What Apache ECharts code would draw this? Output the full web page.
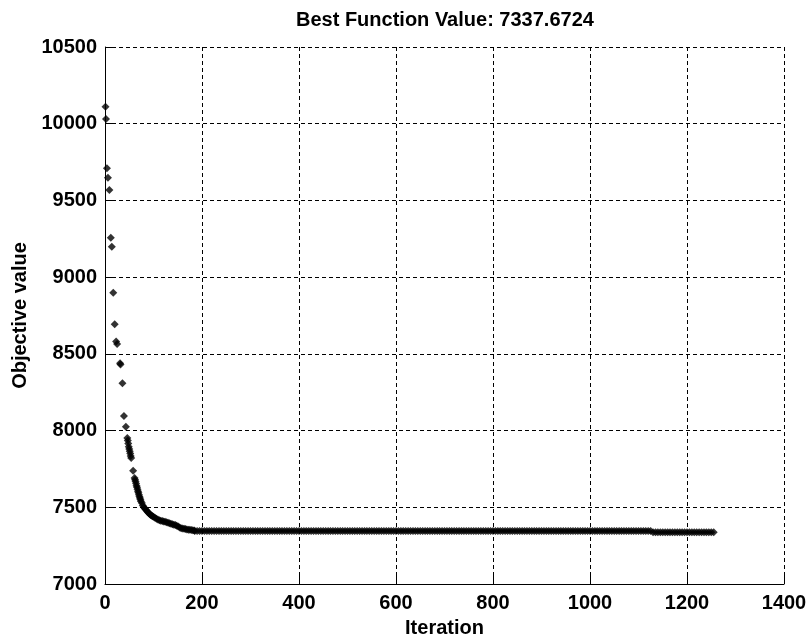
<!DOCTYPE html>
<html>
<head>
<meta charset="utf-8">
<script src="https://cdn.jsdelivr.net/npm/echarts@6/dist/echarts.min.js"></script>
<style>html,body{margin:0;padding:0;background:#fff}#c{width:807px;height:636px}</style>
</head>
<body>
<div id="c"></div>
<script>
const titleText = 'Best Function Value: 7337.6724';
const xName = 'Iteration';
const yName = 'Objective value';
const xTicks = { min: 0, max: 1400, interval: 200 };
const yTicks = { min: 7000, max: 10500, interval: 500 };

// descent phase [iteration, value]
const descent = [
[1,10111],[2,10031],[4,9709],[6,9648],[9,9568],[12,9257],[14,9198],[17,8899],[20,8693],
[23,8580],[25,8565],[31,8438],[32,8430],[36,8308],[39,8095],[43,8025],[46,7952],[47,7935],
[48,7915],[49,7895],[50,7880],[51,7865],[52,7850],[53,7835],[54,7822],[58,7738],[61,7691],
[62,7680],[63,7668],[64,7655],[65,7640],[66,7630],[67,7618],[68,7605],[69,7595],[70,7582],
[71,7570],[72,7560],[73,7550],[74,7540],[76,7528],[78,7512],[80,7500],[82,7492],[84,7485],
[86,7478],[88,7470],[90,7462],[92,7456],[94,7450],[96,7446],[98,7442],[100,7439],[103,7432],
[106,7426],[109,7420],[112,7415],[115,7412],[118,7410],[121,7408],[124,7406],[127,7403],
[130,7400],[133,7396],[136,7392],[139,7389],[142,7386],[145,7384],[148,7380],[151,7374],
[154,7368],[157,7364],[160,7362],[163,7360],[166,7358],[169,7356],[172,7354],[175,7353],
[178,7352],[181,7350],[184,7348]
];

// first plateau [iteration, value]
const plateauA = [
[185,7346],[190,7346],[195,7346],
[200,7346],[205,7346],[210,7346],[215,7346],[220,7346],[225,7346],[230,7346],[235,7346],[240,7346],[245,7346],
[250,7346],[255,7346],[260,7346],[265,7346],[270,7346],[275,7346],[280,7346],[285,7346],[290,7346],[295,7346],
[300,7346],[305,7346],[310,7346],[315,7346],[320,7346],[325,7346],[330,7346],[335,7346],[340,7346],[345,7346],
[350,7346],[355,7346],[360,7346],[365,7346],[370,7346],[375,7346],[380,7346],[385,7346],[390,7346],[395,7346],
[400,7346],[405,7346],[410,7346],[415,7346],[420,7346],[425,7346],[430,7346],[435,7346],[440,7346],[445,7346],
[450,7346],[455,7346],[460,7346],[465,7346],[470,7346],[475,7346],[480,7346],[485,7346],[490,7346],[495,7346],
[500,7346],[505,7346],[510,7346],[515,7346],[520,7346],[525,7346],[530,7346],[535,7346],[540,7346],[545,7346],
[550,7346],[555,7346],[560,7346],[565,7346],[570,7346],[575,7346],[580,7346],[585,7346],[590,7346],[595,7346],
[600,7346],[605,7346],[610,7346],[615,7346],[620,7346],[625,7346],[630,7346],[635,7346],[640,7346],[645,7346],
[650,7346],[655,7346],[660,7346],[665,7346],[670,7346],[675,7346],[680,7346],[685,7346],[690,7346],[695,7346],
[700,7346],[705,7346],[710,7346],[715,7346],[720,7346],[725,7346],[730,7346],[735,7346],[740,7346],[745,7346],
[750,7346],[755,7346],[760,7346],[765,7346],[770,7346],[775,7346],[780,7346],[785,7346],[790,7346],[795,7346],
[800,7346],[805,7346],[810,7346],[815,7346],[820,7346],[825,7346],[830,7346],[835,7346],[840,7346],[845,7346],
[850,7346],[855,7346],[860,7346],[865,7346],[870,7346],[875,7346],[880,7346],[885,7346],[890,7346],[895,7346],
[900,7346],[905,7346],[910,7346],[915,7346],[920,7346],[925,7346],[930,7346],[935,7346],[940,7346],[945,7346],
[950,7346],[955,7346],[960,7346],[965,7346],[970,7346],[975,7346],[980,7346],[985,7346],[990,7346],[995,7346],
[1000,7346],[1005,7346],[1010,7346],[1015,7346],[1020,7346],[1025,7346],[1030,7346],[1035,7346],[1040,7346],[1045,7346],
[1050,7346],[1055,7346],[1060,7346],[1065,7346],[1070,7346],[1075,7346],[1080,7346],[1085,7346],[1090,7346],[1095,7346],
[1100,7346],[1105,7346],[1110,7346],[1115,7346],[1120,7346],[1125,7346]
];

// final plateau [iteration, value]
const plateauB = [
[1130,7337.67],[1135,7337.67],[1140,7337.67],[1145,7337.67],[1150,7337.67],[1155,7337.67],
[1160,7337.67],[1165,7337.67],[1170,7337.67],[1175,7337.67],[1180,7337.67],[1185,7337.67],
[1190,7337.67],[1195,7337.67],[1200,7337.67],[1205,7337.67],[1210,7337.67],[1215,7337.67],
[1220,7337.67],[1225,7337.67],[1230,7337.67],[1235,7337.67],[1240,7337.67],[1245,7337.67],
[1250,7337.67],[1255,7337.67]
];

const FONT = "'Liberation Sans', Arial, sans-serif";
const chart = echarts.init(document.getElementById('c'), null, { renderer: 'canvas' });
const gridStyle = { show: true, lineStyle: { color: '#000', width: 1, type: [4, 3] } };
const axisLbl = { color: '#000', fontFamily: FONT, fontWeight: 'bold', fontSize: 20, formatter: (v) => String(v) };
const mk = (data) => ({
  type: 'scatter', data, symbol: 'diamond', symbolSize: 8,
  itemStyle: { color: '#000' }, silent: true
});
chart.setOption({
  animation: false,
  backgroundColor: '#fff',
  title: {
    text: titleText, left: 296, top: 10, padding: 0,
    textStyle: { color: '#000', fontFamily: FONT, fontWeight: 'bold', fontSize: 20 }
  },
  grid: { left: 105, right: 23, top: 47, bottom: 52, containLabel: false, outerBoundsMode: 'none' },
  xAxis: {
    type: 'value', min: xTicks.min, max: xTicks.max, interval: xTicks.interval,
    name: xName, nameLocation: 'middle', nameGap: 34,
    nameTextStyle: { color: '#000', fontFamily: FONT, fontWeight: 'bold', fontSize: 20 },
    axisLine: { show: true, lineStyle: { color: '#000', width: 1 } },
    axisTick: { show: true, inside: true, length: 9, lineStyle: { color: '#000' } },
    axisLabel: Object.assign({ margin: 9 }, axisLbl),
    splitLine: gridStyle
  },
  yAxis: {
    type: 'value', min: yTicks.min, max: yTicks.max, interval: yTicks.interval,
    name: yName, nameLocation: 'middle', nameGap: 75,
    nameTextStyle: { color: '#000', fontFamily: FONT, fontWeight: 'bold', fontSize: 20 },
    axisLine: { show: true, lineStyle: { color: '#000', width: 1 } },
    axisTick: { show: true, inside: true, length: 9, lineStyle: { color: '#000' } },
    axisLabel: Object.assign({ margin: 8 }, axisLbl),
    splitLine: gridStyle
  },
  series: [mk(descent), mk(plateauA), mk(plateauB)]
});
</script>
</body>
</html>
